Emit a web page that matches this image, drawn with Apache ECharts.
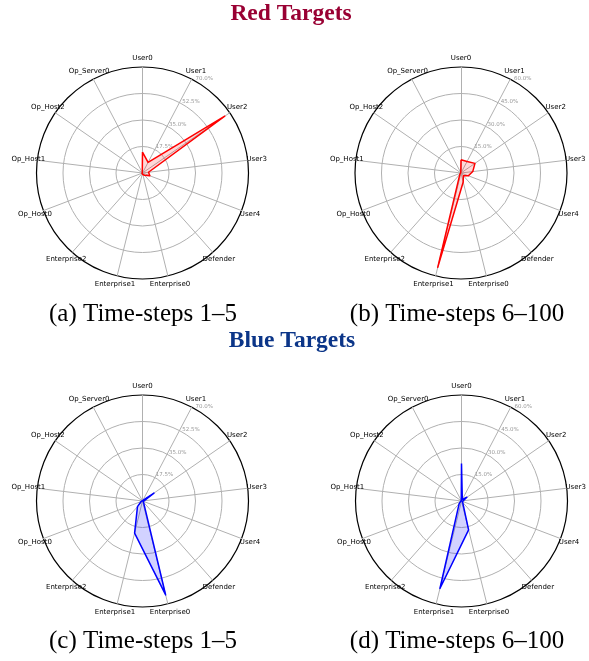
<!DOCTYPE html>
<html><head><meta charset="utf-8">
<script src="https://cdn.jsdelivr.net/npm/echarts@6/dist/echarts.min.js"></script>
<style>html,body{margin:0;padding:0;background:#fff}#c{width:589px;height:661px}</style>
</head><body><div id="c"></div>
<script>
const categories = ['User0','User1','User2','User3','User4','Defender','Enterprise0','Enterprise1','Enterprise2','Op_Host0','Op_Host1','Op_Host2','Op_Server0'];
const redEarly  = [13.8, 7.9, 66.0, 4.0, 5.2, 2.0, 1.0, 0.5, 0.5, 0.3, 0.3, 0.3, 0.3];
const redLate   = [7.5, 7.4, 9.6, 6.7, 4.5, 2.0, 5.2, 55.0, 1.0, 0.3, 0.3, 0.3, 0.3];
const blueEarly = [0.5, 0.5, 9.2, 1.0, 0.5, 1.0, 63.9, 21.8, 5.0, 1.0, 0.3, 0.3, 0.3];
const blueLate  = [21.2, 1.0, 3.7, 1.0, 0.5, 1.0, 16.8, 51.0, 2.0, 0.5, 0.3, 0.3, 0.3];
const maxEarly = 70, maxLate = 60;
const captions = ['(a) Time-steps 1\u20135','(b) Time-steps 6\u2013100','(c) Time-steps 1\u20135','(d) Time-steps 6\u2013100'];

// clockwise order -> ECharts radar goes counter-clockwise, so reverse all but first
const order = [0].concat(categories.map((_, i) => i).slice(1).reverse());

const panels = [
  {values: redEarly, max: maxEarly, color: '#ff0000', fill: 'rgba(255,0,0,0.22)', center: [142.5, 173]},
  {values: redLate, max: maxLate, color: '#ff0000', fill: 'rgba(255,0,0,0.22)', center: [461, 173]},
  {values: blueEarly, max: maxEarly, color: '#0000ff', fill: 'rgba(0,0,255,0.25)', center: [142.5, 501]},
  {values: blueLate, max: maxLate, color: '#0000ff', fill: 'rgba(0,0,255,0.25)', center: [461.5, 501]}
];
const R = 106;
const grey = '#b0b0b0';

const option = {
  animation: false,
  radar: panels.map(p => ({
    center: p.center, radius: R, startAngle: 90, shape: 'circle', splitNumber: 4,
    indicator: order.map(i => ({name: categories[i], min: 0, max: p.max})),
    nameGap: 9,
    axisName: {color: '#000', fontSize: 7, fontFamily: 'DejaVu Sans', align: 'center', verticalAlign: 'middle'},
    axisLine: {lineStyle: {color: grey, width: 1}},
    splitLine: {lineStyle: {color: [grey, grey, grey, grey, 'rgba(0,0,0,0)'], width: 1}},
    splitArea: {show: false},
    axisTick: {show: false},
    axisLabel: {show: false}
  })),
  polar: panels.map(p => ({center: p.center, radius: [0, R]})),
  angleAxis: panels.map((p, i) => ({
    polarIndex: i, type: 'value', min: 0, max: 360, startAngle: 60,
    axisLine: {lineStyle: {color: '#000', width: 1.2}},
    axisTick: {show: false}, axisLabel: {show: false}, splitLine: {show: false}
  })),
  radiusAxis: panels.map((p, i) => ({
    polarIndex: i, type: 'value', min: 0, max: p.max, interval: p.max / 4,
    axisLine: {show: false}, axisTick: {show: false}, splitLine: {show: false},
    axisLabel: {color: '#999', fontSize: 5.5, fontFamily: 'DejaVu Sans', margin: 0,
      align: 'left', verticalAlign: 'bottom',
      formatter: v => v === 0 ? '' : v.toFixed(1) + '%'}
  })),
  graphic: [
    {type: 'text', x: 291, y: 14, style: {text: 'Red Targets', fill: '#990033', font: 'bold 23.5px "Liberation Serif"', textAlign: 'center', textVerticalAlign: 'middle'}},
    {type: 'text', x: 292, y: 341, style: {text: 'Blue Targets', fill: '#0b3588', font: 'bold 23.5px "Liberation Serif"', textAlign: 'center', textVerticalAlign: 'middle'}},
    {type: 'text', x: 143, y: 314, style: {text: captions[0], fill: '#000', font: '25px "Liberation Serif"', textAlign: 'center', textVerticalAlign: 'middle'}},
    {type: 'text', x: 457, y: 314, style: {text: captions[1], fill: '#000', font: '25px "Liberation Serif"', textAlign: 'center', textVerticalAlign: 'middle'}},
    {type: 'text', x: 143, y: 641, style: {text: captions[2], fill: '#000', font: '25px "Liberation Serif"', textAlign: 'center', textVerticalAlign: 'middle'}},
    {type: 'text', x: 457, y: 641, style: {text: captions[3], fill: '#000', font: '25px "Liberation Serif"', textAlign: 'center', textVerticalAlign: 'middle'}}
  ],
  series: panels.map((p, i) => ({
    type: 'radar', radarIndex: i, symbol: 'none',
    lineStyle: {color: p.color, width: 1.5},
    areaStyle: {color: p.fill},
    data: [{value: order.map(k => p.values[k])}]
  }))
};
const chart = echarts.init(document.getElementById('c'), null, {renderer: 'canvas'});
chart.setOption(option);
</script></body></html>
